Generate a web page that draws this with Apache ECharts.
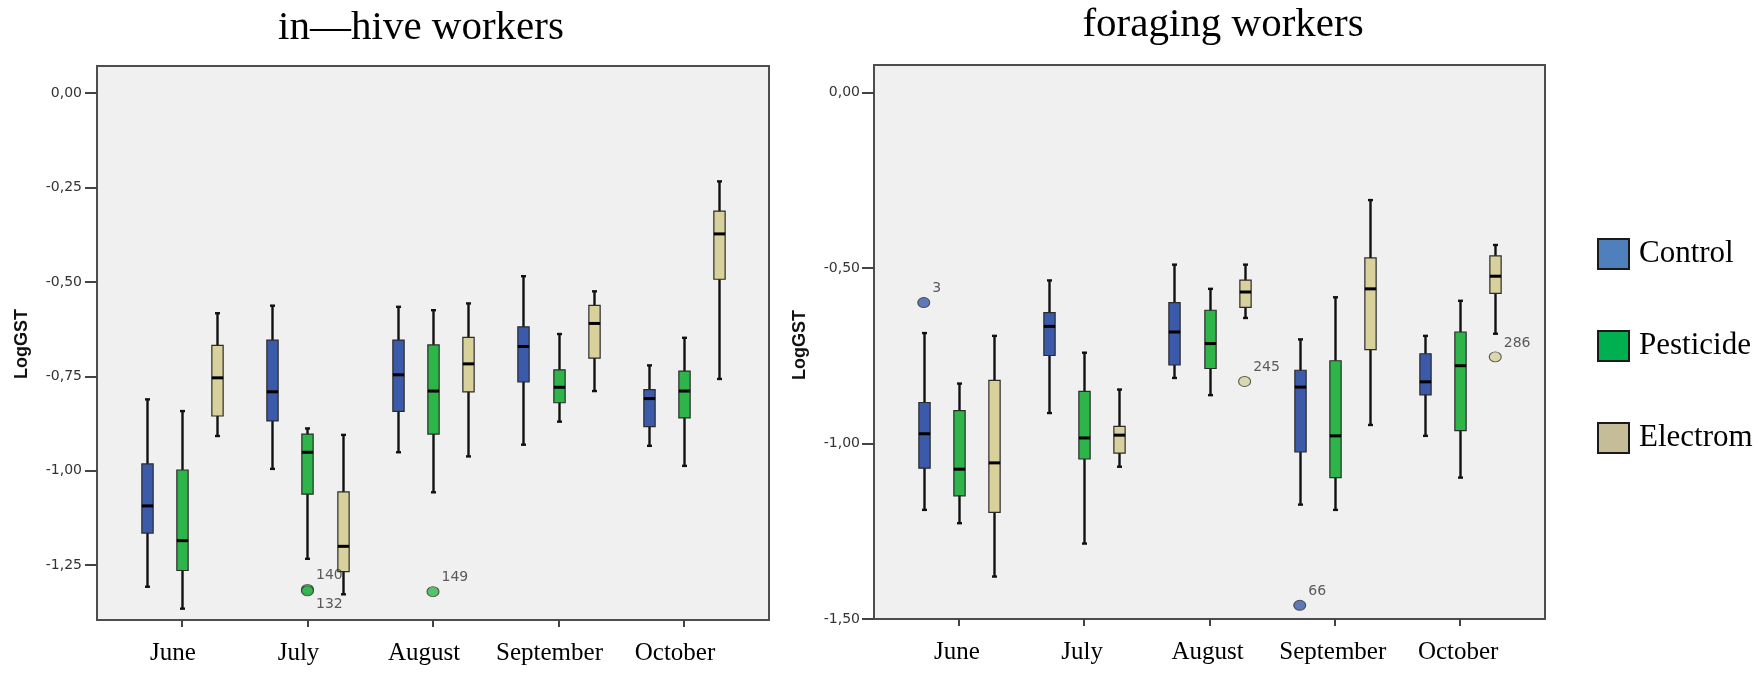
<!DOCTYPE html>
<html>
<head>
<meta charset="utf-8">
<script src="https://cdn.jsdelivr.net/npm/echarts@6/dist/echarts.min.js"></script>
<style>
html,body{margin:0;padding:0;background:#fff;}
#chart{width:1761px;height:673px;}
</style>
</head>
<body>
<div id="chart"></div>
<script>
// ---------------- DATA ----------------
const months = ['June', 'July', 'August', 'September', 'October'];
const groups = ['Control', 'Pesticide', 'Electrom'];
const yTicksLeft = [0, -0.25, -0.5, -0.75, -1.0, -1.25];
const yTicksRight = [0, -0.5, -1.0, -1.5];

// each row: [lower whisker, Q1, median, Q3, upper whisker], one row per month
const inHiveControl = [
  [-1.307, -1.165, -1.093, -0.982, -0.811],
  [-0.995, -0.868, -0.791, -0.654, -0.563],
  [-0.951, -0.843, -0.746, -0.654, -0.566],
  [-0.931, -0.765, -0.671, -0.619, -0.485],
  [-0.934, -0.883, -0.809, -0.785, -0.721]
];
const inHivePesticide = [
  [-1.365, -1.264, -1.185, -0.998, -0.842],
  [-1.233, -1.062, -0.951, -0.903, -0.888],
  [-1.057, -0.903, -0.789, -0.667, -0.575],
  [-0.870, -0.820, -0.779, -0.733, -0.638],
  [-0.987, -0.860, -0.789, -0.736, -0.648]
];
const inHiveElectrom = [
  [-0.908, -0.855, -0.754, -0.668, -0.583],
  [-1.327, -1.267, -1.200, -1.056, -0.905],
  [-0.962, -0.791, -0.717, -0.647, -0.557],
  [-0.789, -0.702, -0.610, -0.562, -0.525],
  [-0.757, -0.493, -0.373, -0.313, -0.234]
];
const foragingControl = [
  [-1.189, -1.070, -0.972, -0.883, -0.685],
  [-0.913, -0.749, -0.666, -0.627, -0.535],
  [-0.813, -0.776, -0.682, -0.598, -0.490],
  [-1.174, -1.024, -0.839, -0.791, -0.703],
  [-0.978, -0.861, -0.824, -0.744, -0.693]
];
const foragingPesticide = [
  [-1.227, -1.149, -1.073, -0.906, -0.829],
  [-1.285, -1.044, -0.984, -0.851, -0.741],
  [-0.862, -0.786, -0.715, -0.620, -0.559],
  [-1.189, -1.097, -0.978, -0.764, -0.583],
  [-1.097, -0.963, -0.778, -0.682, -0.593]
];
const foragingElectrom = [
  [-1.379, -1.196, -1.055, -0.820, -0.693],
  [-1.066, -1.027, -0.976, -0.951, -0.846],
  [-0.642, -0.612, -0.568, -0.534, -0.490],
  [-0.947, -0.732, -0.559, -0.471, -0.306],
  [-0.687, -0.572, -0.523, -0.465, -0.434]
];
// outliers: [month, group, value, case label, label side]
const inHiveOutliers = [
  ['July', 'Pesticide', -1.314, '140', 'up'],
  ['July', 'Pesticide', -1.318, '132', 'down'],
  ['August', 'Pesticide', -1.320, '149', 'up']
];
const foragingOutliers = [
  ['June', 'Control', -0.598, '3', 'up'],
  ['August', 'Electrom', -0.823, '245', 'up'],
  ['September', 'Control', -1.461, '66', 'up'],
  ['October', 'Electrom', -0.753, '286', 'up']
];

// ---------------- STYLE ----------------
const boxColors = ['#3b5aa9', '#2eb54a', '#d8d19c'];
const legendColors = ['#4f7fbd', '#00b050', '#c4bd97'];
const GROUP_OFFSET = 0.28;   // in month units
const BOX_W = 0.09;          // in month units
const CAP_PX = 5;
const XMIN = -0.677, XMAX = 4.677;

function makeRender(color) {
  return function (params, api) {
    const x = api.value(0);
    const p = [1, 2, 3, 4, 5].map(i => api.coord([x, api.value(i)]));
    const cx = Math.round(p[0][0]) + 0.5;
    const bw = api.size([BOX_W, 0])[0];
    const wStyle = { stroke: '#111', lineWidth: 2.4 };
    return {
      type: 'group',
      children: [
        { type: 'line', shape: { x1: cx, y1: p[0][1], x2: cx, y2: p[4][1] }, style: wStyle },
        { type: 'line', shape: { x1: cx - CAP_PX / 2, y1: p[0][1], x2: cx + CAP_PX / 2, y2: p[0][1] }, style: wStyle },
        { type: 'line', shape: { x1: cx - CAP_PX / 2, y1: p[4][1], x2: cx + CAP_PX / 2, y2: p[4][1] }, style: wStyle },
        { type: 'rect', shape: { x: cx - bw / 2, y: p[3][1], width: bw, height: p[1][1] - p[3][1] },
          style: { fill: color, stroke: '#2b2b2b', lineWidth: 1.2 } },
        { type: 'line', shape: { x1: cx - bw / 2, y1: p[2][1], x2: cx + bw / 2, y2: p[2][1] },
          style: { stroke: '#000', lineWidth: 3 } }
      ]
    };
  };
}

function boxSeries(name, rows, gi, axisIdx) {
  return {
    name: name,
    type: 'custom',
    xAxisIndex: axisIdx, yAxisIndex: axisIdx,
    renderItem: makeRender(boxColors[gi]),
    itemStyle: { color: boxColors[gi] },
    encode: { x: 0, y: [1, 2, 3, 4, 5] },
    data: rows.map((r, mi) => [mi + (gi - 1) * GROUP_OFFSET].concat(r)),
    z: 2
  };
}

function outlierSeries(list, axisIdx) {
  return {
    name: 'outliers' + axisIdx,
    type: 'scatter',
    xAxisIndex: axisIdx, yAxisIndex: axisIdx,
    symbol: 'circle',
    symbolSize: [12, 10],
    z: 3,
    data: list.map(o => {
      const gi = groups.indexOf(o[1]);
      return {
        value: [months.indexOf(o[0]) + (gi - 1) * GROUP_OFFSET, o[2]],
        itemStyle: { color: boxColors[gi], borderColor: '#333', borderWidth: 1 },
        label: {
          show: true, formatter: o[3], position: 'right', distance: 2,
          offset: [0, o[4] === 'up' ? -14 : 13],
          fontFamily: 'DejaVu Sans', fontSize: 14, color: '#333'
        }
      };
    })
  };
}

function xAxis(gridIndex, shiftPad) {
  return {
    type: 'value', gridIndex: gridIndex, min: XMIN, max: XMAX, position: 'bottom',
    splitLine: { show: false },
    axisLine: { show: false, onZero: false },
    axisTick: { show: true, customValues: [0, 1, 2, 3, 4], length: 7, lineStyle: { color: '#444', width: 2 } },
    axisLabel: {
      customValues: [0, 1, 2, 3, 4],
      formatter: v => months[Math.round(v)],
      fontFamily: 'Liberation Serif', fontSize: 25, color: '#000', margin: 21,
      padding: [0, shiftPad, 0, 0]
    }
  };
}
function yAxis(gridIndex, min, max, ticks, margin) {
  return {
    type: 'value', gridIndex: gridIndex, min: min, max: max, position: 'left',
    splitLine: { show: false },
    axisLine: { show: false, onZero: false },
    axisTick: { show: true, customValues: ticks, length: 12, lineStyle: { color: '#444', width: 2 } },
    axisLabel: {
      customValues: ticks,
      formatter: v => (Math.abs(v) < 1e-9 ? 0 : v).toFixed(2).replace('.', ','),
      fontFamily: 'DejaVu Sans', fontSize: 14, color: '#333', margin: margin
    }
  };
}

const chart = echarts.init(document.getElementById('chart'), null, { renderer: 'canvas' });
const titleFont = 'normal 41px "Liberation Serif"';
chart.setOption({
  animation: false,
  backgroundColor: '#ffffff',
  grid: [
    { left: 97, top: 66, width: 672, height: 554, show: true, backgroundColor: '#f0f0f0', borderColor: '#4d4d4d', borderWidth: 2 },
    { left: 874, top: 65, width: 671, height: 554, show: true, backgroundColor: '#f0f0f0', borderColor: '#4d4d4d', borderWidth: 2 }
  ],
  xAxis: [xAxis(0, 18), xAxis(1, 4)],
  yAxis: [yAxis(0, -1.395, 0.0714, yTicksLeft, 15), yAxis(1, -1.5, 0.079, yTicksRight, 14)],
  legend: {
    orient: 'vertical', left: 1597, top: 238, padding: 0,
    itemWidth: 31, itemHeight: 30, itemGap: 60,
    itemStyle: { borderColor: '#1a1a1a', borderWidth: 2 },
    textStyle: { fontFamily: 'Liberation Serif', fontSize: 31, color: '#000', lineHeight: 30, padding: [0, 0, 0, 5] },
    data: groups.map((g, i) => ({ name: g, icon: 'rect', itemStyle: { color: legendColors[i] } }))
  },
  graphic: [
    { type: 'text', x: 421, y: 28, style: { text: 'in\u2014hive workers', font: titleFont, fill: '#000', textAlign: 'center', textVerticalAlign: 'middle' } },
    { type: 'text', x: 1223, y: 25, style: { text: 'foraging workers', font: titleFont, fill: '#000', textAlign: 'center', textVerticalAlign: 'middle' } },
    { type: 'text', x: 22, y: 344, rotation: Math.PI / 2, style: { text: 'LogGST', font: 'bold 18px "Liberation Sans"', fill: '#111', textAlign: 'center', textVerticalAlign: 'middle' } },
    { type: 'text', x: 800, y: 345, rotation: Math.PI / 2, style: { text: 'LogGST', font: 'bold 18px "Liberation Sans"', fill: '#111', textAlign: 'center', textVerticalAlign: 'middle' } }
  ],
  series: [
    boxSeries('Control', inHiveControl, 0, 0),
    boxSeries('Pesticide', inHivePesticide, 1, 0),
    boxSeries('Electrom', inHiveElectrom, 2, 0),
    boxSeries('Control', foragingControl, 0, 1),
    boxSeries('Pesticide', foragingPesticide, 1, 1),
    boxSeries('Electrom', foragingElectrom, 2, 1),
    outlierSeries(inHiveOutliers, 0),
    outlierSeries(foragingOutliers, 1)
  ]
});
</script>
</body>
</html>
